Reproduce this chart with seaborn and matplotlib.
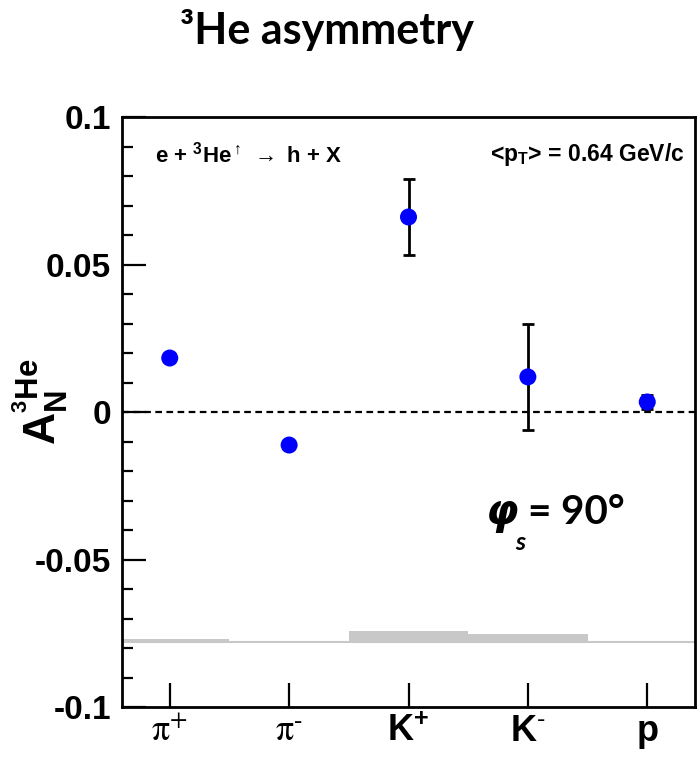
import numpy as np
import pandas as pd
import matplotlib
matplotlib.use("Agg")
import matplotlib.pyplot as plt
import seaborn as sns

# ---- data ----
hadrons = ["pi+", "pi-", "K+", "K-", "p"]
tick_labels = [r"$\mathrm{\pi}^{+}$", r"$\mathrm{\pi}^{\text{-}}$",
               r"$\mathbf{K^{+}}$", r"$\mathbf{K}^{\text{-}}$", "p"]
asym = [0.0183, -0.0112, 0.0661, 0.0119, 0.0034]
stat_err = [0.0008, 0.0008, 0.0129, 0.0180, 0.0024]
sys_err = [0.0010, 0.0000, 0.0038, 0.0027, 0.0000]
sys_base = -0.078
yticks = [0.1, 0.05, 0.0, -0.05, -0.1]
ytick_labels = ["0.1", "0.05", "0", "-0.05", "-0.1"]

sns.set_theme(style="ticks")
plt.rcParams["font.family"] = ["Liberation Sans", "DejaVu Sans"]
plt.rcParams["mathtext.fontset"] = "custom"
plt.rcParams["mathtext.rm"] = "Liberation Sans"
plt.rcParams["mathtext.it"] = "Liberation Sans:italic"
plt.rcParams["mathtext.bf"] = "Liberation Sans:bold"
plt.rcParams["mathtext.sf"] = "Liberation Sans"

df = pd.DataFrame({"x": np.arange(len(hadrons)), "hadron": hadrons, "A": asym,
                   "err": stat_err, "sys": sys_err})

fig = plt.figure(figsize=(6.99, 7.57), dpi=100)
ax = fig.add_axes([122/699, 50/757, (695-122)/699, (708-118)/757])

# systematic band
ax.bar(df["x"], df["sys"], width=1.0, bottom=sys_base, color="#c8c8c8",
       edgecolor="none", zorder=1)
ax.axhline(sys_base, color="#c8c8c8", lw=1.5, zorder=1)

# zero line
ax.axhline(0.0, color="black", lw=1.6, ls=(0, (3, 2)), zorder=2)

# error bars + points
ax.errorbar(df["x"], df["A"], yerr=df["err"], fmt="none", ecolor="black",
            elinewidth=2, capsize=4, capthick=2, zorder=3)
sns.scatterplot(data=df, x="x", y="A", ax=ax, color="#0000ff", s=150,
                edgecolor="none", zorder=4, legend=False)

ax.set_xlim(-0.4, 4.4)
ax.set_ylim(-0.1, 0.1)
ax.set_xlabel("")
ax.set_ylabel("")

ax.set_xticks(df["x"])
ax.set_xticklabels(tick_labels)
for i, lab in enumerate(ax.get_xticklabels()):
    lab.set_fontsize(26)
    lab.set_color("black")
    if i < 2:
        lab.set_math_fontfamily("stix")
    else:
        lab.set_fontweight("bold")

ax.set_yticks(yticks)
ax.set_yticklabels(ytick_labels, fontsize=24, fontweight="bold")
ax.set_yticks(np.arange(-0.1, 0.1001, 0.01), minor=True)

ax.tick_params(axis="x", direction="in", length=17, width=1.6, pad=5,
               top=False, colors="black")
ax.tick_params(axis="y", which="major", direction="in", length=17, width=1.6,
               pad=8, right=False, colors="black")
ax.tick_params(axis="y", which="minor", direction="in", length=8, width=1.6,
               right=False, colors="black")
ax.tick_params(axis="x", which="minor", bottom=False)
for s in ax.spines.values():
    s.set_visible(True)
    s.set_color("black")
    s.set_linewidth(2)

# annotations
fig.text(155/699, 1 - 155/757, r"e + $^{\mathbf{3}}$He$^{\uparrow}$ $\rightarrow$ h + X",
         fontsize=16, fontweight="bold", va="center", ha="left", color="black")
fig.text(684/699, 1 - 155/757, r"<p$_{\mathbf{T}}$> = 0.64 GeV/c", fontsize=16.5,
         fontweight="bold", va="center", ha="right", color="black")

fig.text(40/699, 1 - 402/757, r"$\mathbf{A_{N}^{^{3}He}}$", rotation=90,
         fontsize=32, ha="center", va="center", color="black")

fig.text(327/699, 1 - 30/757, "³He asymmetry", family=["Lato", "DejaVu Sans"],
         fontweight="bold", fontsize=31, ha="center", va="center", color="black")

fig.text(502/699, 1 - 512/757, "φ", family=["DejaVu Sans"], style="italic",
         fontweight="bold", fontsize=30, ha="center", va="center", color="black")
fig.text(520/699, 1 - 543/757, "s", family=["Lato", "DejaVu Sans"], style="italic",
         fontweight="bold", fontsize=18, ha="center", va="center", color="black")
fig.text(528/699, 1 - 512/757, "= 90°", family=["Lato", "DejaVu Sans"],
         fontweight="bold", fontsize=29, ha="left", va="center", color="black")

fig.savefig("out.png", dpi=100)
